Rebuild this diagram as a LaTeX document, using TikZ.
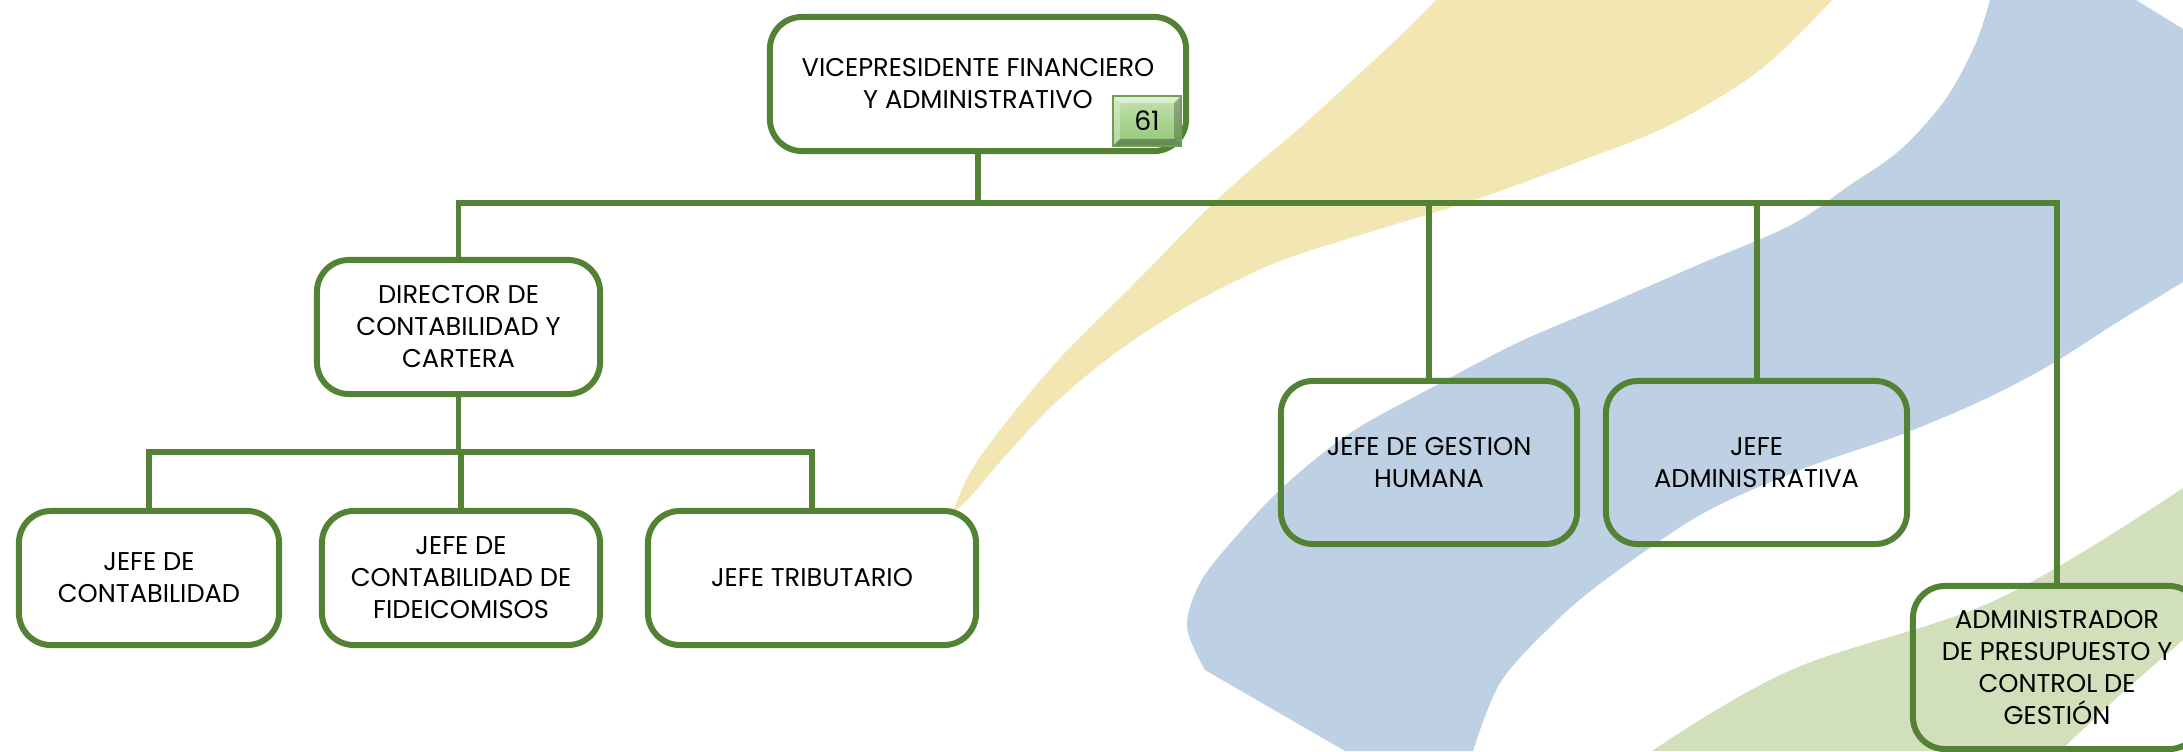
\documentclass[tikz,border=0pt]{standalone}
\usepackage{fontspec}
\setmainfont{Poppins}
\definecolor{linegreen}{HTML}{548235}
\definecolor{bgyellow}{HTML}{F2E6B2}
\definecolor{bgblue}{HTML}{BED0E4}
\definecolor{bggreen}{HTML}{D2DFBB}
\definecolor{badgetop}{HTML}{C4E2AF}
\definecolor{badgebot}{HTML}{92C676}
\definecolor{badgeedge}{HTML}{6E9E55}
\begin{document}
\begin{tikzpicture}[x=0.01cm,y=-0.01cm,
  box/.style={draw=linegreen, line width=1.7pt, rounded corners=0.32cm, align=center,
    font=\fontsize{7.3pt}{9.1pt}\selectfont, text=black, inner sep=0pt},
  conn/.style={draw=linegreen, line width=1.7pt},
  badge/.style={draw=badgeedge, line width=0.6pt, top color=badgetop, bottom color=badgebot,
    minimum width=0.68cm, minimum height=0.5cm, inner sep=0pt,
    font=\fontsize{7.6pt}{9pt}\selectfont, text=black,
    path picture={
      \fill[white, opacity=0.45] (path picture bounding box.north west) -- (path picture bounding box.north east)
        -- ([shift={(-2pt,-2pt)}]path picture bounding box.north east) -- ([shift={(2pt,-2pt)}]path picture bounding box.north west) -- cycle;
      \fill[white, opacity=0.3] (path picture bounding box.north west) -- (path picture bounding box.south west)
        -- ([shift={(2pt,2pt)}]path picture bounding box.south west) -- ([shift={(2pt,-2pt)}]path picture bounding box.north west) -- cycle;
      \fill[black, opacity=0.25] (path picture bounding box.north east) -- (path picture bounding box.south east)
        -- ([shift={(-2pt,2pt)}]path picture bounding box.south east) -- ([shift={(-2pt,-2pt)}]path picture bounding box.north east) -- cycle;
      \fill[black, opacity=0.3] (path picture bounding box.south west) -- (path picture bounding box.south east)
        -- ([shift={(-2pt,2pt)}]path picture bounding box.south east) -- ([shift={(2pt,2pt)}]path picture bounding box.south west) -- cycle;
    }}]
\useasboundingbox (0,0) rectangle (2183,751);
\clip (0,0) rectangle (2183,751);
\fill[white] (0,0) rectangle (2183,751);
% background swooshes
\fill[bgyellow] (1436,0) -- (1832,0)
  -- plot[smooth, tension=0.55] coordinates {(1832,0) (1760,70) (1670,125) (1583,160) (1480,198) (1370,232) (1275,263) (1186,307) (1114,354) (1054,404) (1007,454) (971,496) (952,514)}
  -- plot[smooth, tension=0.55] coordinates {(952,514) (971,471) (1007,421) (1061,357) (1132,286) (1221,196) (1311,118) (1400,36) (1436,0)}
  -- cycle;
\fill[bgblue] (1990,0) -- (2136,0) -- (2183,29) -- (2183,282)
  -- plot[smooth, tension=0.55] coordinates {(2183,282) (2116,323) (2050,365) (1983,400) (1900,435) (1800,470) (1700,515) (1601,583) (1550,627) (1500,683) (1473,751)}
  -- (1345,751) -- (1205,670)
  -- plot[smooth, tension=0.55] coordinates {(1205,670) (1187,627) (1200,583) (1233,540) (1283,487) (1350,433) (1433,387) (1517,343) (1601,307) (1700,264) (1791,225) (1850,185) (1900,150) (1945,100) (1975,45) (1990,0)}
  -- cycle;
\fill[bggreen] (2183,488) -- (2183,640)
  -- plot[smooth, tension=0.6] coordinates {(2183,640) (2120,695) (2060,751)}
  -- (1652,751)
  -- plot[smooth, tension=0.6] coordinates {(1652,751) (1791,670) (1998,599) (2183,488)}
  -- cycle;
% nodes
\node[box, minimum width=4.16cm, minimum height=1.34cm] (vp) at (978,84) {VICEPRESIDENTE FINANCIERO\\Y ADMINISTRATIVO};
\node[badge] (b61) at (1147,121) {61};
\node[box, minimum width=2.83cm, minimum height=1.34cm] (dir) at (458.5,327) {DIRECTOR DE\\CONTABILIDAD Y\\CARTERA};
\node[box, minimum width=2.60cm, minimum height=1.34cm] (c1) at (149,578) {JEFE DE\\CONTABILIDAD};
\node[box, minimum width=2.78cm, minimum height=1.34cm] (c2) at (461,578) {JEFE DE\\CONTABILIDAD DE\\FIDEICOMISOS};
\node[box, minimum width=3.28cm, minimum height=1.34cm] (c3) at (812,578) {JEFE TRIBUTARIO};
\node[box, minimum width=2.96cm, minimum height=1.63cm] (gest) at (1429,462.5) {JEFE DE GESTION\\HUMANA};
\node[box, minimum width=3.01cm, minimum height=1.63cm] (jadm) at (1756.5,462.5) {JEFE\\ADMINISTRATIVA};
\node[box, minimum width=2.88cm, minimum height=1.63cm] (adm) at (2057,667.5) {ADMINISTRADOR\\DE PRESUPUESTO Y\\CONTROL DE\\GESTIÓN};
% connectors
\coordinate (bus) at (979,203);
\coordinate (bus2) at (458,452);
\draw[conn] (vp.south) -- (vp.south |- bus);
\draw[conn] (dir.north) |- (adm.north |- bus) -- (adm.north);
\draw[conn] (gest.north) -- (gest.north |- bus);
\draw[conn] (jadm.north) -- (jadm.north |- bus);
\draw[conn] (dir.south) -- (dir.south |- bus2);
\draw[conn] (c1.north) |- (c3.north |- bus2) -- (c3.north);
\draw[conn] (c2.north) -- (c2.north |- bus2);
\end{tikzpicture}
\end{document}
